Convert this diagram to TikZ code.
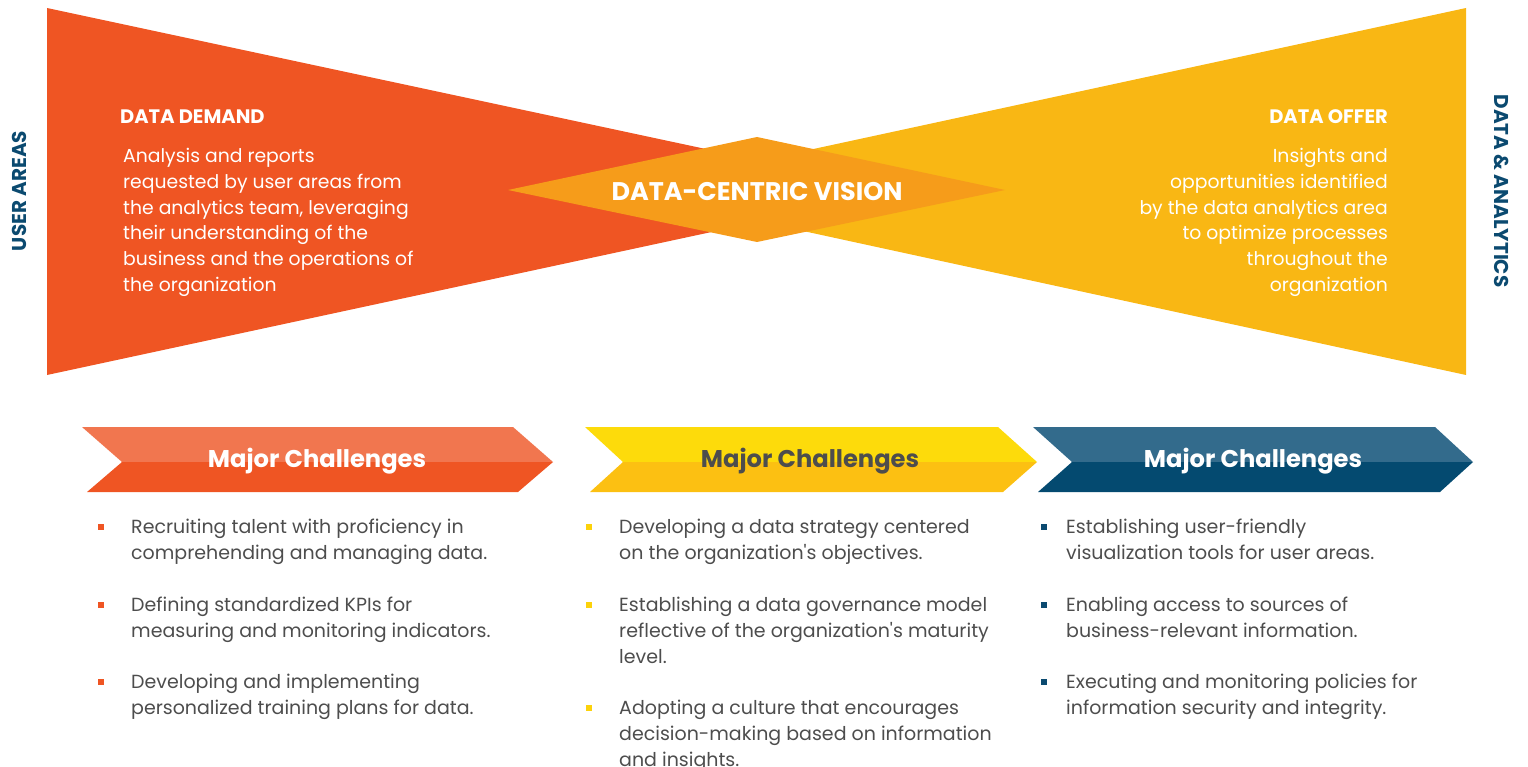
\documentclass[tikz,border=0pt]{standalone}
\usepackage{fontspec}
\setmainfont{Poppins}
\definecolor{cOrange}{HTML}{EF5523}
\definecolor{cOrangeL}{HTML}{F1764F}
\definecolor{cYellow}{HTML}{F9B714}
\definecolor{cDiamond}{HTML}{F69C1A}
\definecolor{cYelA}{HTML}{FDDB0B}
\definecolor{cYelB}{HTML}{FCC012}
\definecolor{cBlueA}{HTML}{336B8C}
\definecolor{cBlueB}{HTML}{044A70}
\definecolor{cNavy}{HTML}{0B4A70}
\definecolor{cText}{HTML}{4D4D4D}
\definecolor{cBulY}{HTML}{FCD20B}
\begin{document}
\begin{tikzpicture}[x=1pt,y=-1pt,
  body/.style={inner sep=0pt, align=left, text=cText, font=\fontsize{19}{25.9}\selectfont},
  white body/.style={inner sep=0pt, text=white, font=\fontsize{18.8}{25.8}\selectfont},
  head/.style={inner sep=0pt, text=white, font=\fontsize{19.5}{22}\selectfont\bfseries},
  chevtext/.style={inner sep=0pt, font=\fontsize{24.2}{26}\selectfont\bfseries},
  side/.style={inner sep=0pt, text=cNavy, font=\fontsize{20}{22}\selectfont\bfseries},
  bul/.style={fill=#1, minimum size=6pt, inner sep=0pt, draw=none}
]
\useasboundingbox (0,0) rectangle (1528,767);
% bowtie
\fill[cOrange] (47,8) -- (47,375) -- (902,191) -- cycle;
\fill[cYellow] (1466,8) -- (1466,375) -- (619,191) -- cycle;
\fill[cDiamond] (508,190) -- (757,137) -- (1005,190) -- (757,242) -- cycle;
\node[inner sep=0pt, text=white, font=\fontsize{25.5}{28}\selectfont\bfseries] (vision) at (757,192) {DATA-CENTRIC VISION};
% left text
\node[head, anchor=base west] (dd) at (120,123.5) {DATA DEMAND};
\node[white body, align=left, anchor=base west] (ddt) at (123,291.5) {Analysis and reports\\requested by user areas from\\the analytics team, leveraging\\their understanding of the\\business and the operations of\\the organization};
% right text
\node[head, anchor=base east] (do) at (1388,123.5) {DATA OFFER};
\node[white body, align=right, anchor=base east] (dot) at (1388,291.5) {Insights and\\opportunities identified\\by the data analytics area\\to optimize processes\\throughout the\\organization};
% side labels
\node[side, rotate=90] (ua) at (19,191) {USER AREAS};
\node[side, rotate=-90] (da) at (1502,191) {DATA \& ANALYTICS};
% chevrons
\fill[cOrangeL] (82,427) -- (513,427) -- (553,462) -- (122,462) -- cycle;
\fill[cOrange] (122,462) -- (553,462) -- (518,492) -- (87,492) -- cycle;
\fill[cYelA] (585,427) -- (998,427) -- (1037,462) -- (623,462) -- cycle;
\fill[cYelB] (623,462) -- (1037,462) -- (1003,492) -- (590,492) -- cycle;
\fill[cBlueA] (1033,427) -- (1435,427) -- (1473,462) -- (1072,462) -- cycle;
\fill[cBlueB] (1072,462) -- (1473,462) -- (1440,492) -- (1038,492) -- cycle;
\node[chevtext, text=white] (c1) at (317,461) {Major Challenges};
\node[chevtext, text=cText] (c2) at (810,461) {Major Challenges};
\node[chevtext, text=white] (c3) at (1253,461) {Major Challenges};
% column 1
\node[bul=cOrange] (b11) at (101,527) {};
\node[bul=cOrange] (b12) at (101,605) {};
\node[bul=cOrange] (b13) at (101,682) {};
\node[body, anchor=base west] (t11) at (131,559.5) {Recruiting talent with proficiency in\\comprehending and managing data.};
\node[body, anchor=base west] (t12) at (131,637.5) {Defining standardized KPIs for\\measuring and monitoring indicators.};
\node[body, anchor=base west] (t13) at (131,714.5) {Developing and implementing\\personalized training plans for data.};
% column 2
\node[bul=cBulY] (b21) at (589,527) {};
\node[bul=cBulY] (b22) at (589,605) {};
\node[bul=cBulY] (b23) at (589,708) {};
\node[body, anchor=base west] (t21) at (619,559.5) {Developing a data strategy centered\\on the organization\textquotesingle s objectives.};
\node[body, anchor=base west] (t22) at (619,663.4) {Establishing a data governance model\\reflective of the organization\textquotesingle s maturity\\level.};
\node[body, anchor=base west] (t23) at (619,766.4) {Adopting a culture that encourages\\decision-making based on information\\and insights.};
% column 3
\node[bul=cNavy] (b31) at (1044,527) {};
\node[bul=cNavy] (b32) at (1044,605) {};
\node[bul=cNavy] (b33) at (1044,682) {};
\node[body, anchor=base west] (t31) at (1066,559.5) {Establishing user-friendly\\visualization tools for user areas.};
\node[body, anchor=base west] (t32) at (1066,637.5) {Enabling access to sources of\\business-relevant information.};
\node[body, anchor=base west] (t33) at (1066,714.5) {Executing and monitoring policies for\\information security and integrity.};
\end{tikzpicture}
\end{document}
